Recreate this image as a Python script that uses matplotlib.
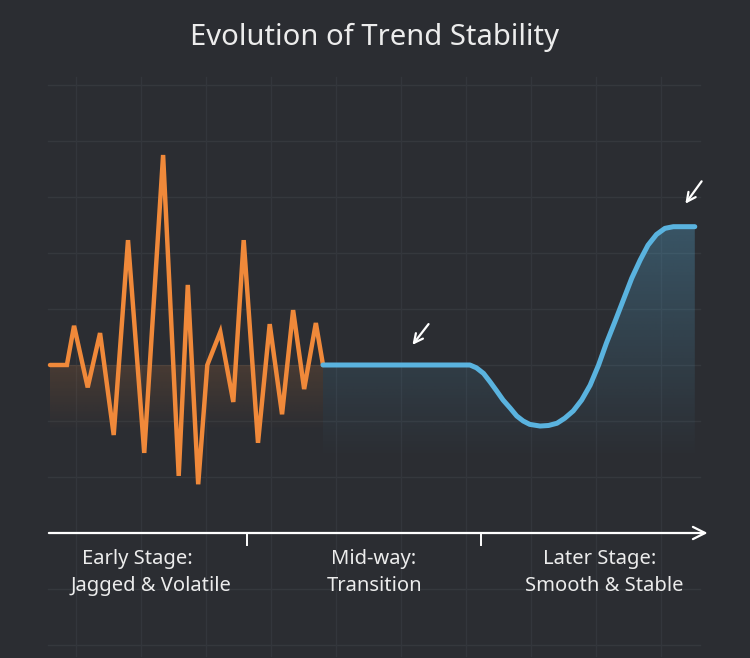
import numpy as np
import matplotlib
matplotlib.use("Agg")
import matplotlib.pyplot as plt
from matplotlib.path import Path
from matplotlib.colors import to_rgb

# early stage: jagged, volatile (time, value)
early_t = [0, 2.6, 3.7, 5.8, 7.7, 9.8, 12.0, 14.5, 17.4, 19.8, 21.2, 22.8,
           24.2, 26.2, 28.2, 29.8, 32.0, 33.8, 35.7, 37.4, 39.1, 40.9, 42.0]
early_v = [0, 0, 7.0, -4.0, 5.7, -12.5, 22.3, -15.7, 37.5, -19.8, 14.3, -21.3,
           0, 5.9, -6.6, 22.3, -13.9, 7.3, -8.8, 9.8, -4.3, 7.5, 0]

# mid-way flat + later smooth stage
late_t = [42.0, 64.6, 65.6, 66.7, 67.7, 68.7, 69.7, 70.8, 71.8, 72.8, 73.8,
          75.4, 76.7, 78.0, 79.2, 80.5, 81.8, 83.1, 84.4, 85.6, 86.9, 88.2,
          89.5, 90.8, 92.0, 93.3, 94.6, 95.9, 99.2]
late_v = [0, 0, -0.5, -1.5, -3.0, -4.6, -6.25, -7.7, -9.1, -10.0, -10.6,
          -10.9, -10.8, -10.4, -9.5, -8.2, -6.25, -3.6, 0, 3.9, 7.7, 11.6,
          15.5, 18.75, 21.4, 23.3, 24.4, 24.7, 24.7]

stage_titles = ["Early Stage:", "Mid-way:", "Later Stage:"]
stage_notes = ["Jagged & Volatile", "Transition", "Smooth & Stable"]
stage_bounds = [30.3, 66.3]

bg = "#2b2d32"
orange = "#f0893a"
blue = "#5ab3df"
txt = "#ececec"

plt.rcParams["font.family"] = ["Noto Sans", "DejaVu Sans"]

fig = plt.figure(figsize=(7.5, 6.58), dpi=100, facecolor=bg)
ax = fig.add_axes([0, 0, 1, 1])
ax.set_facecolor(bg)
ax.set_xlim(-50 / 6.5, 700 / 6.5)
ax.set_ylim(-293 / 5.6, 365 / 5.6)
ax.axis("off")

# background grid
for v in range(-50, 51, 10):
    ax.plot([-0.3, 100.0], [v, v], color="#35383d", lw=1, zorder=0)
for t in range(4, 100, 10):
    ax.plot([t, t], [-52, 51.5], color="#33363c", lw=1, zorder=0)


def gradient_fill(xs, ys, color, top, bottom, a_top, a_bot):
    poly = Path(np.column_stack([xs, ys]))
    grad = np.linspace(a_top, a_bot, 256).reshape(-1, 1)
    img = np.zeros((256, 1, 4))
    img[..., :3] = to_rgb(color)
    img[..., 3] = grad
    im = ax.imshow(img, extent=[min(xs), max(xs), bottom, top], aspect="auto",
                   origin="upper", zorder=1, interpolation="bilinear")
    im.set_clip_path(poly, transform=ax.transData)


# orange glow under early stage
gradient_fill([0, 42, 42, 0], [0, 0, -12, -12], orange, 0, -12, 0.15, 0.0)
# blue glow under later stage
gx = late_t + [late_t[-1], late_t[0]]
gy = late_v + [-30, -30]
gradient_fill(gx, gy, blue, 25, -17, 0.3, 0.0)

ax.plot(early_t, early_v, color=orange, lw=3.2, solid_joinstyle="miter",
        solid_capstyle="round", zorder=3)
ax.plot(late_t, late_v, color=blue, lw=3.6, solid_joinstyle="round",
        solid_capstyle="round", zorder=3)

# pointer arrows
arrow = dict(arrowstyle="->", color="white", lw=1.6, mutation_scale=16)
ax.annotate("", xy=(55.5, 3.2), xytext=(58.5, 7.7), arrowprops=arrow, zorder=4)
ax.annotate("", xy=(97.5, 28.4), xytext=(100.5, 33.2), arrowprops=arrow, zorder=4)

# time axis
ax.annotate("", xy=(101.6, -30), xytext=(-0.6, -30),
            arrowprops=dict(arrowstyle="->", color="white", lw=1.6,
                            mutation_scale=22), zorder=4)
for b in stage_bounds:
    ax.plot([b, b], [-30, -32.2], color="white", lw=1.4, zorder=4)

title_x = [13.4, 49.8, 84.5]
note_x = [15.5, 50.0, 85.2]
for i in range(3):
    ax.text(title_x[i], -34.6, stage_titles[i], color=txt, fontsize=14.5,
            ha="center", va="center")
    ax.text(note_x[i], -39.4, stage_notes[i], color=txt, fontsize=14.5,
            ha="center", va="center")

ax.text(0.5, 1 - 37 / 658, "Evolution of Trend Stability", transform=ax.transAxes,
        color=txt, fontsize=21, ha="center", va="center")

fig.savefig("out.png", dpi=100, facecolor=bg)
